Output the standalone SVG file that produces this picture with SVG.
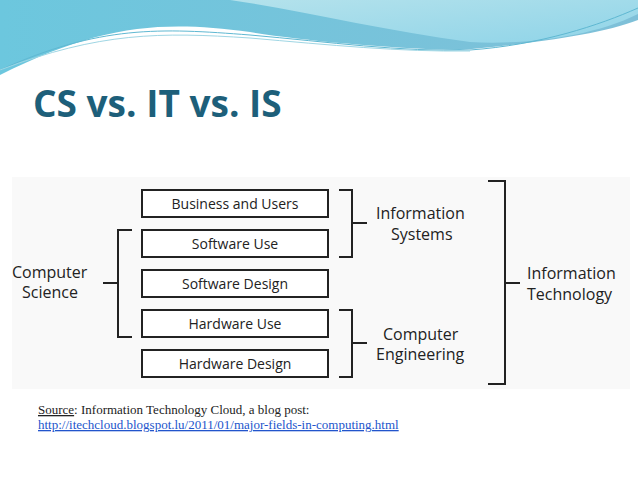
<svg xmlns="http://www.w3.org/2000/svg" width="638" height="479" viewBox="0 0 638 479">
<defs>
<linearGradient id="g1" x1="0" y1="0" x2="1" y2="0"><stop offset="0" stop-color="#6cc7de"/><stop offset="1" stop-color="#7fc0d8"/></linearGradient>
<linearGradient id="g2" x1="0" y1="0" x2="1" y2="1"><stop offset="0" stop-color="#b4e2ec"/><stop offset="1" stop-color="#8fd4e8"/></linearGradient>
</defs>
<style>
.box{fill:#fff;stroke:#222;stroke-width:2}
.br{fill:none;stroke:#222;stroke-width:2}
.t{font-family:"Open Sans","DejaVu Sans",sans-serif;font-size:14px;fill:#222;text-anchor:middle}
.l{font-family:"Open Sans","DejaVu Sans",sans-serif;font-size:16px;fill:#222}
.s{font-family:"Liberation Serif",serif;font-size:13px}
</style>
<rect width="638" height="479" fill="#fff"/>
<path d="M0 0H638V20C600 35 520 45 460 50C380 48 300 40 250 32C160 20 100 25 0 75Z" fill="url(#g1)"/>
<path d="M230 0H638V14C590 38 520 45 470 42C380 30 300 10 230 0Z" fill="url(#g2)"/>
<path d="M0 70C100 25 160 28 250 35C330 42 400 52 470 50C540 45 600 25 638 8" fill="none" stroke="#5fb8d2" stroke-width="1"/>
<path d="M0 70C100 32 160 32 250 38C330 45 400 52 470 51" fill="none" stroke="#9fd6e4" stroke-width="1"/>
<text x="33" y="117" font-family="'Open Sans','DejaVu Sans',sans-serif" font-weight="bold" font-size="37" fill="#1d5f7a">CS vs. IT vs. IS</text>
<rect x="12" y="177" width="618" height="212" fill="#f9f9f9"/>
<g id="n1"><rect class="box" x="142" y="190" width="186" height="27"/><text class="t" x="235" y="209">Business and Users</text></g>
<g id="n2"><rect class="box" x="142" y="230" width="186" height="27"/><text class="t" x="235" y="249">Software Use</text></g>
<g id="n3"><rect class="box" x="142" y="270" width="186" height="27"/><text class="t" x="235" y="289">Software Design</text></g>
<g id="n4"><rect class="box" x="142" y="310" width="186" height="27"/><text class="t" x="235" y="329">Hardware Use</text></g>
<g id="n5"><rect class="box" x="142" y="350" width="186" height="27"/><text class="t" x="235" y="369">Hardware Design</text></g>
<g id="cs"><text class="l" x="12" y="278">Computer</text><text class="l" x="22" y="298">Science</text></g>
<g id="is"><text class="l" x="376" y="219">Information</text><text class="l" x="391" y="240">Systems</text></g>
<g id="ce"><text class="l" x="383" y="340">Computer</text><text class="l" x="376" y="360">Engineering</text></g>
<g id="it"><text class="l" x="527" y="279">Information</text><text class="l" x="527" y="300">Technology</text></g>
<g id="connectors">
<path class="br" d="M132 230H118V337H132M103 283H118"/>
<path class="br" d="M339 190H352V257H339M352 223H367"/>
<path class="br" d="M339 310H352V377H339M352 343H367"/>
<path class="br" stroke-width="3.5" d="M488 181H505V384H488M505 283H520"/>
</g>
<text class="s" x="38" y="414" fill="#222"><tspan text-decoration="underline">Source</tspan>: Information Technology Cloud, a blog post:</text>
<text class="s" x="38" y="429" fill="#2255cc" text-decoration="underline">http://itechcloud.blogspot.lu/2011/01/major-fields-in-computing.html</text>
</svg>
